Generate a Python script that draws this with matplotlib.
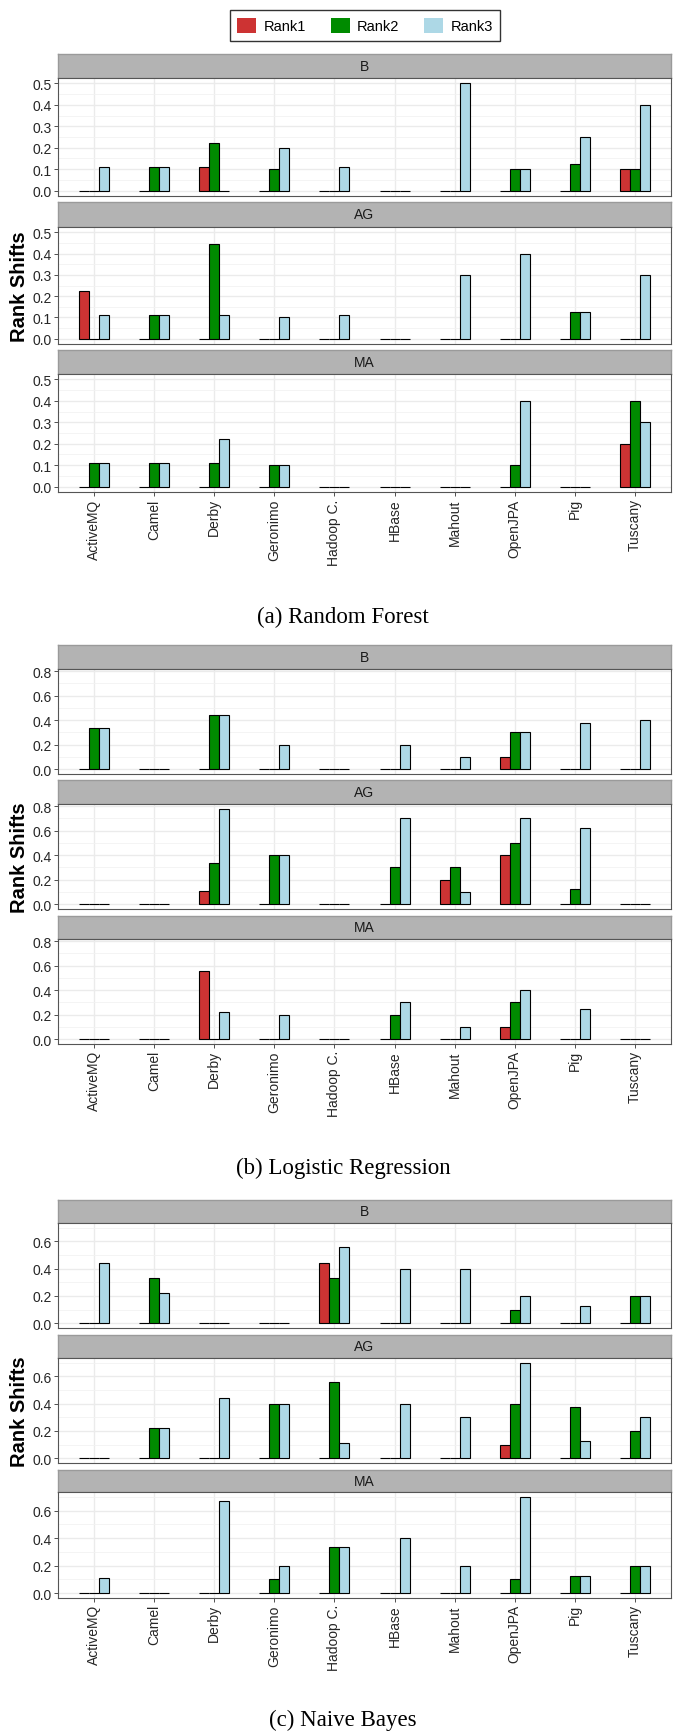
import numpy as np
import matplotlib
matplotlib.use("Agg")
import matplotlib.pyplot as plt
from matplotlib.patches import Patch

plt.rcParams["font.family"] = ["Liberation Sans", "DejaVu Sans"]

# ---------------- data ----------------
projects = ["ActiveMQ", "Camel", "Derby", "Geronimo", "Hadoop C.",
            "HBase", "Mahout", "OpenJPA", "Pig", "Tuscany"]
rank_names = ["Rank1", "Rank2", "Rank3"]
rank_colors = ["#CD3333", "#008B00", "#ADD8E6"]
facet_names = ["B", "AG", "MA"]

# Random Forest: [Rank1, Rank2, Rank3] per facet
rf_B = [[0, 0, 0.111, 0, 0, 0, 0, 0, 0, 0.1],
        [0, 0.111, 0.222, 0.1, 0, 0, 0, 0.1, 0.125, 0.1],
        [0.111, 0.111, 0, 0.2, 0.111, 0, 0.5, 0.1, 0.25, 0.4]]
rf_AG = [[0.222, 0, 0, 0, 0, 0, 0, 0, 0, 0],
         [0, 0.111, 0.444, 0, 0, 0, 0, 0, 0.125, 0],
         [0.111, 0.111, 0.111, 0.1, 0.111, 0, 0.3, 0.4, 0.125, 0.3]]
rf_MA = [[0, 0, 0, 0, 0, 0, 0, 0, 0, 0.2],
         [0.111, 0.111, 0.111, 0.1, 0, 0, 0, 0.1, 0, 0.4],
         [0.111, 0.111, 0.222, 0.1, 0, 0, 0, 0.4, 0, 0.3]]

# Logistic Regression
lr_B = [[0, 0, 0, 0, 0, 0, 0, 0.1, 0, 0],
        [0.333, 0, 0.444, 0, 0, 0, 0, 0.3, 0, 0],
        [0.333, 0, 0.444, 0.2, 0, 0.2, 0.1, 0.3, 0.375, 0.4]]
lr_AG = [[0, 0, 0.111, 0, 0, 0, 0.2, 0.4, 0, 0],
         [0, 0, 0.333, 0.4, 0, 0.3, 0.3, 0.5, 0.125, 0],
         [0, 0, 0.778, 0.4, 0, 0.7, 0.1, 0.7, 0.625, 0]]
lr_MA = [[0, 0, 0.556, 0, 0, 0, 0, 0.1, 0, 0],
         [0, 0, 0, 0, 0, 0.2, 0, 0.3, 0, 0],
         [0, 0, 0.222, 0.2, 0, 0.3, 0.1, 0.4, 0.25, 0]]

# Naive Bayes
nb_B = [[0, 0, 0, 0, 0.444, 0, 0, 0, 0, 0],
        [0, 0.333, 0, 0, 0.333, 0, 0, 0.1, 0, 0.2],
        [0.444, 0.222, 0, 0, 0.556, 0.4, 0.4, 0.2, 0.125, 0.2]]
nb_AG = [[0, 0, 0, 0, 0, 0, 0, 0.1, 0, 0],
         [0, 0.222, 0, 0.4, 0.556, 0, 0, 0.4, 0.375, 0.2],
         [0, 0.222, 0.444, 0.4, 0.111, 0.4, 0.3, 0.7, 0.125, 0.3]]
nb_MA = [[0, 0, 0, 0, 0, 0, 0, 0, 0, 0],
         [0, 0, 0, 0.1, 0.333, 0, 0, 0.1, 0.125, 0.2],
         [0.111, 0, 0.667, 0.2, 0.333, 0.4, 0.2, 0.7, 0.125, 0.2]]

rf_yticks = [0.0, 0.1, 0.2, 0.3, 0.4, 0.5]
lr_yticks = [0.0, 0.2, 0.4, 0.6, 0.8]
nb_yticks = [0.0, 0.2, 0.4, 0.6]

# ---------------- layout (pixels) ----------------
W, H = 673, 1733
PANEL_L, PANEL_R = 58, 671


def px_axes(fig, left, top, right, bottom):
    return fig.add_axes([left / W, 1 - bottom / H, (right - left) / W, (bottom - top) / H])


def draw_facet(fig, name, values, ymax, yticks, strip_top, strip_bot, plot_bot, show_x):
    # strip
    sax = px_axes(fig, PANEL_L, strip_top, PANEL_R, strip_bot)
    sax.set_facecolor("#B3B3B3")
    sax.set_xticks([])
    sax.set_yticks([])
    for sp in sax.spines.values():
        sp.set_color("#9A9A9A")
        sp.set_linewidth(1.0)
    sax.text(0.5, 0.5, name, ha="center", va="center", fontsize=10,
             color="#1A1A1A", transform=sax.transAxes)

    # panel
    ax = px_axes(fig, PANEL_L, strip_bot, PANEL_R, plot_bot)
    x = np.arange(len(projects))
    for i, vals in enumerate(values):
        ax.bar(x + (i - 1) / 6, vals, width=1 / 6, color=rank_colors[i],
               edgecolor="black", linewidth=0.8, zorder=3)
    ax.set_xlim(-0.6, len(projects) - 0.4)
    ax.set_ylim(-0.05 * ymax, 1.05 * ymax)
    ax.set_yticks(yticks)
    ax.set_yticklabels(["%.1f" % t for t in yticks])
    step = yticks[1] - yticks[0]
    minor = [t + step / 2 for t in yticks if t + step / 2 <= 1.05 * ymax]
    ax.set_yticks(minor, minor=True)
    ax.yaxis.grid(True, which="major", color="#EBEBEB", linewidth=1.0)
    ax.yaxis.grid(True, which="minor", color="#F2F2F2", linewidth=0.6)
    ax.xaxis.grid(True, which="major", color="#EBEBEB", linewidth=1.0)
    ax.set_axisbelow(True)
    for sp in ax.spines.values():
        sp.set_color("#555555")
        sp.set_linewidth(0.8)
    ax.tick_params(axis="y", which="major", length=3, width=0.6, color="#333333",
                   labelsize=10, labelcolor="#262626", pad=1.5)
    ax.tick_params(axis="y", which="minor", length=0)
    ax.set_xticks(x)
    if show_x:
        ax.set_xticklabels(projects, rotation=90)
        ax.tick_params(axis="x", length=3, width=0.6, color="#333333",
                       labelsize=10, labelcolor="#262626", pad=1.5)
    else:
        ax.set_xticklabels([])
        ax.tick_params(axis="x", length=0)
    return ax


fig = plt.figure(figsize=(W / 100, H / 100), dpi=100)

sections = [
    ([rf_B, rf_AG, rf_MA], rf_yticks,
     [(55, 79, 197), (203, 228, 345), (351, 375, 493)], "(a) Random Forest", 617),
    ([lr_B, lr_AG, lr_MA], lr_yticks,
     [(646, 670, 775), (781, 805, 910), (917, 940, 1045)], "(b) Logistic Regression", 1168),
    ([nb_B, nb_AG, nb_MA], nb_yticks,
     [(1201, 1224, 1329), (1336, 1359, 1464), (1471, 1493, 1599)], "(c) Naive Bayes", 1720),
]

for facets, yticks, boxes, caption, cap_y in sections:
    ymax = max(max(max(r) for r in f) for f in facets)
    for k, (fvals, box) in enumerate(zip(facets, boxes)):
        draw_facet(fig, facet_names[k], fvals, ymax, yticks, box[0], box[1], box[2], k == 2)
    mid = (boxes[1][1] + boxes[1][2]) / 2
    fig.text(20 / W, 1 - mid / H, "Rank Shifts", rotation=90, ha="center", va="center",
             fontsize=14.5, fontweight="bold", color="black")
    fig.text(343 / W, 1 - cap_y / H, caption, ha="center", va="center",
             fontsize=16.5, family="Liberation Serif", color="black")

handles = [Patch(facecolor=c, edgecolor="none") for c in rank_colors]
leg = fig.legend(handles, rank_names, loc="center", bbox_to_anchor=(365 / W, 1 - 26.5 / H),
                 ncol=3, frameon=True, fancybox=False, fontsize=10.5,
                 handlelength=1.3, handleheight=1.3, handletextpad=0.5,
                 columnspacing=1.7, borderpad=0.5)
leg.get_frame().set_edgecolor("black")
leg.get_frame().set_linewidth(1.0)

fig.savefig("out.png", dpi=100)
